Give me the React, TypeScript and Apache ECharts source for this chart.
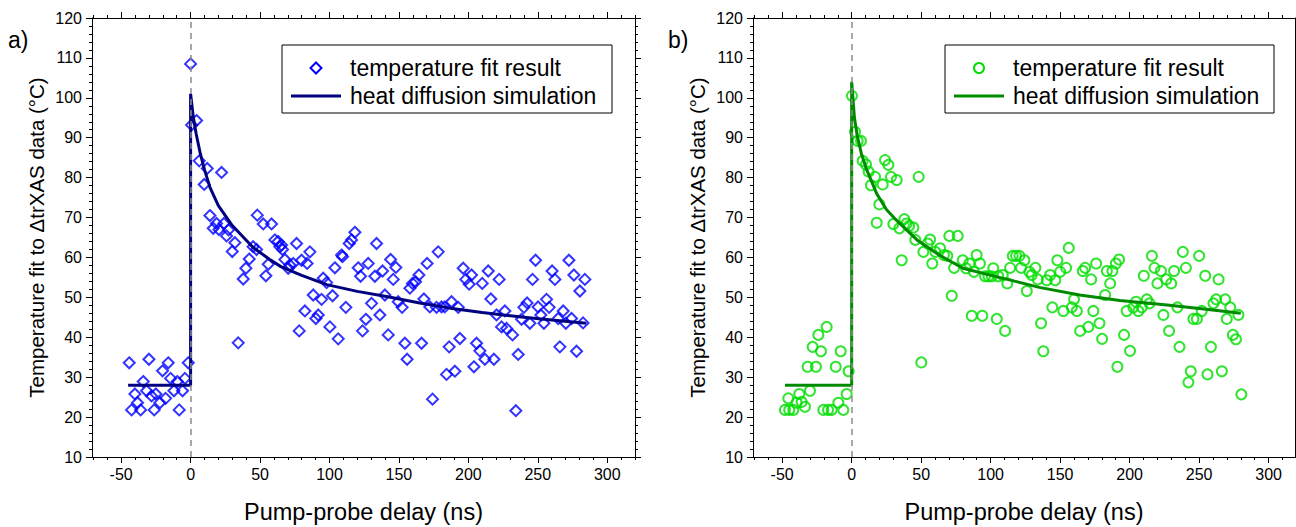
import React, { useEffect, useRef } from "react";
import * as echarts from "echarts";

const FONT = "Liberation Sans, Arial, sans-serif";

// tick labels
const xMajorTicks = [-50, 0, 50, 100, 150, 200, 250, 300];
const xMinorTicks = [-70, -60, -50, -40, -30, -20, -10, 0, 10, 20, 30, 40, 50, 60, 70, 80, 90, 100, 110, 120, 130, 140, 150, 160, 170, 180, 190, 200, 210, 220, 230, 240, 250, 260, 270, 280, 290, 300, 310, 320];

const xTitle = "Pump-probe delay (ns)";
const yTitle = "Temperature fit to \u0394trXAS data (\u00B0C)";
const legendNames = ["temperature fit result", "heat diffusion simulation"];

// panel a: temperature fit result (delay ns, temperature °C)
const aScatter: [number, number][] = [
  [-44.2, 33.6], [-30, 34.5], [-16.1, 33.6], [-1.7, 33.6], [-20.2, 31.6], [-34.1, 28.9], [-14.4, 29.7],
  [-9.6, 28.9], [-4.1, 29.7], [-40.1, 25.8], [-31.7, 26.6], [-25, 25.8], [-28.1, 25.3], [-12, 26.6],
  [-5.8, 26.6], [-18, 24.7], [-22.1, 23.6], [-38.2, 23.6], [-42.5, 21.8], [-36, 21.8], [-26.2, 21.8], [-8.2, 21.8],
  [0, 108.5], [4.3, 94.3], [0.7, 93.2], [6.2, 84.2], [12, 82.3], [22.3, 81.3], [9.8, 78.3],
  [13.9, 70.5], [16.3, 67.3], [18.7, 68.5], [20.4, 67], [24, 68.5], [27.3, 66.9], [25.9, 65.4], [31.9, 63.7],
  [30, 61.5], [48, 70.6], [52.3, 68.4], [58.3, 68.4], [45, 62.7], [47.5, 62], [42.2, 59.6], [39.8, 57.3],
  [37.9, 54.6], [55.9, 58.3], [54.2, 55.4], [60.7, 64.4], [63, 64], [34.3, 38.6],
  [64.3, 62.7], [66.2, 62], [65.5, 63.1], [67.9, 59.5], [71.5, 58.1], [73.9, 58.5], [70.3, 57.3], [79.9, 59.3],
  [76.3, 63.5], [85.9, 61.4], [83.9, 58.5], [95.5, 54.8], [97.9, 53.7], [88.3, 50.6], [94.3, 49.5], [102.2, 50.4],
  [82.3, 46.6], [91.9, 45.6], [90.2, 44.7], [78.2, 41.6], [100.3, 42.6], [106.3, 39.6], [111.8, 47.5], [103.9, 57.4],
  [108.7, 60.6], [109.4, 60.2], [114.2, 63.5], [115.9, 64.4], [118.3, 66.3], [120.7, 57.4], [122.4, 55.3],
  [127.9, 58.5], [133.9, 63.5], [132.7, 55.3], [138.2, 56.6], [130.3, 48.5], [126.2, 44.5], [136.3, 45.6],
  [123.8, 41.6], [139.9, 50.6], [142.3, 40.6], [144, 59.5], [147.8, 57.5], [145.9, 54.5], [149.5, 48.9],
  [152.3, 47.5], [154.3, 38.5], [155.9, 34.5], [157.9, 52.3], [159.8, 53.5], [162, 53.9], [164.4, 55.6],
  [166.3, 38.5], [170.3, 58.5], [178.3, 61.4], [168, 49.6], [172.3, 47.6], [177.1, 47.5], [180.7, 47.6],
  [183, 47.6], [187.9, 48.9], [174.2, 24.5], [186.2, 37.6], [184.3, 30.7], [190.3, 31.5], [193.9, 39.7],
  [192.7, 47.5], [196.3, 57.3], [198.2, 54.5], [200.6, 53.3], [202.3, 55.6], [210, 53.5], [214.3, 56.6],
  [222.2, 54.5], [216.2, 49.6], [205.9, 38.5], [208.3, 36.6], [211.9, 34.5], [218.4, 34.5], [204, 32.6],
  [235.9, 35.7], [234.2, 21.6], [226.3, 46.6], [220.3, 45.6], [223.9, 42.6], [227.5, 42.2], [231.8, 40.6],
  [240, 47.5], [242.3, 48.6], [250.2, 47.6], [252.2, 45.6], [258.2, 47.5], [256.3, 49.5], [244.3, 43.5],
  [254.4, 43.5], [238.3, 44.5], [248.4, 59.3], [246.2, 54.5], [260.3, 56.6], [262.3, 54.5], [272.4, 59.3],
  [276, 55.6], [283.9, 54.5], [280.3, 51.6], [268.3, 46.6], [264.7, 44.7], [270.2, 43.5], [274.3, 44.7],
  [282.6, 43.6], [265.9, 37.6], [277.9, 36.5],
];

// panel a: heat diffusion simulation
const aFit: [number, number][] = [
  [-45, 28], [0, 28], [0, 101], [2, 95], [4, 91], [7, 86], [10, 82], [14, 77.5], [20, 73], [30, 68],
  [45, 62.5], [57, 59.5], [65, 57.7], [80, 55.5], [98, 53.2], [120, 51.5], [141, 50.2], [165, 48.6],
  [187, 47.3], [210, 46.2], [240, 45], [260, 44.3], [285, 43.5],
];

// panel b: temperature fit result
const bScatter: [number, number][] = [
  [-18, 42.6], [-24, 40.6], [-28.1, 37.6], [-22.1, 36.5], [-7.9, 36.5], [-31.7, 32.6], [-25.7, 32.6],
  [-11.5, 32.6], [-2.2, 31.5], [-30, 26.6], [-37.7, 25.8], [-45.6, 24.7], [-3.6, 25.8], [-39.6, 23.6],
  [-36, 23.8], [-33.6, 22.6], [-48, 21.8], [-44.9, 21.8], [-42, 21.8], [-20.4, 21.8], [-17, 21.8],
  [-14.4, 21.8], [-9.6, 23.6], [-6, 21.8],
  [0.2, 100.5], [2.4, 91.5], [4.3, 89.2], [6.7, 89.2], [7.9, 84.2], [10.3, 83.3], [12.2, 81.5], [16.8, 80.2],
  [13.9, 78.1], [24, 84.4], [26.4, 83.2], [28.3, 80.2], [32.4, 79.4], [22.3, 78.3], [48.2, 80.2], [19.9, 73.3],
  [18, 68.7], [30, 68.4], [34.3, 67.3], [37.9, 69.6], [39.6, 68.5], [41.3, 67.9], [44.4, 67.5], [45.8, 64.4],
  [51.6, 61.4], [56.4, 64.5], [54.7, 63.5], [58, 58.5], [60.2, 61.4], [36, 59.3], [50.1, 33.7],
  [63.6, 62.3], [66.4, 60.6], [68.8, 60.4], [70.3, 65.4], [76.3, 65.4], [73.7, 57.4], [79.9, 59.3], [82.3, 57.3],
  [84.7, 58.5], [88, 56.4], [89.9, 60.6], [92.3, 58.5], [96, 55.3], [98.4, 55.3], [100.8, 55.3], [101.9, 57.3],
  [105.5, 55.3], [108.7, 55.6], [112, 53.5], [114, 57.4], [115.9, 60.4], [118.3, 60.4], [120.7, 60.4],
  [124.3, 59.3], [121.9, 57.4], [127.9, 56.4], [129.6, 55.6], [132.2, 57.4], [133.9, 54.5], [126, 51.6],
  [140.4, 54.3], [142.8, 55.6], [146.4, 54.3], [148, 59.3], [150, 56.4], [154.3, 57.4], [156.2, 62.4],
  [136.3, 43.5], [137.9, 36.5], [144.4, 47.5], [152.3, 46.6], [158.4, 47.5], [160, 49.5], [162, 46.6],
  [164.4, 41.6], [170.3, 42.6], [166.3, 56.6], [168, 57.4], [172.3, 54.5], [175.9, 58.5], [173.9, 46.6],
  [178.3, 43.5], [180.2, 39.6], [182.4, 50.6], [183.6, 56.6], [187.6, 56.6], [190.1, 58.5], [192.4, 59.5],
  [186, 53.5], [191.2, 32.6], [72, 50.4], [86.4, 45.4], [94, 45.4], [104.4, 44.6], [110.4, 41.6],
  [196, 40.6], [200.3, 36.6], [197.9, 46.6], [202.7, 47.5], [204.6, 48.9], [206.3, 46.6], [208.8, 47.5],
  [212.4, 49.5], [214.3, 48.5], [210.2, 55.4], [216, 60.4], [217.9, 57.4], [222.5, 56.6], [220, 53.5],
  [226.3, 54.5], [229.9, 53.5], [232, 56.6], [238.3, 61.4], [240.5, 57.4], [250, 60.4], [254.4, 55.4],
  [264, 54.5], [224.3, 45.6], [228.4, 41.6], [234.4, 47.5], [235.9, 37.6], [244, 31.5], [242.3, 28.7],
  [245.9, 44.6], [248.4, 44.6], [251.9, 46.6], [256, 30.7], [258.5, 37.6], [260.3, 48.5], [262.3, 49.5],
  [268.8, 49.5], [266.4, 31.5], [272.4, 47.5], [269.9, 44.6], [278.3, 45.6], [274.3, 40.6], [276.5, 39.5],
  [280.4, 25.7],
];

// panel b: heat diffusion simulation
const bFit: [number, number][] = [
  [-48, 28], [0, 28], [0, 104], [2, 95], [4, 90.5], [7, 86], [11, 81.8], [18, 76], [25, 72], [32, 69.4],
  [47, 64.4], [63, 60.6], [80, 57.3], [104, 55.2], [135, 52.5], [164, 50.6], [193, 49.2], [227, 48.1],
  [255, 47], [280, 46],
];

const BLUE = "#0000ff";
const NAVY = "#000080";
const LGREEN = "#00dd00";
const DGREEN = "#008a00";

function xAxes(grid: number, min: number, max: number) {
  const base = {
    type: "value",
    gridIndex: grid,
    min,
    max,
    splitLine: { show: false },
    axisLine: { show: true, onZero: false, lineStyle: { color: "#000", width: 1 } },
  };
  const majors = xMajorTicks.filter((v) => v >= min && v <= max);
  const minors = xMinorTicks.filter((v) => v >= min && v <= max);
  return [
    {
      ...base,
      position: "bottom",
      axisTick: { show: true, customValues: majors, length: 6, lineStyle: { color: "#000" } },
      axisLabel: { show: true, customValues: majors, fontSize: 16, color: "#000", fontFamily: FONT, margin: 9 },
      name: xTitle,
      nameLocation: "middle",
      nameGap: 43,
      nameTextStyle: { fontSize: 23.5, color: "#000", fontFamily: FONT },
    },
    {
      ...base,
      position: "bottom",
      axisLine: { show: false },
      axisTick: { show: true, customValues: minors, length: 3, lineStyle: { color: "#000" } },
      axisLabel: { show: false },
    },
    {
      ...base,
      position: "top",
      axisTick: { show: true, customValues: majors, length: 6, lineStyle: { color: "#000" } },
      axisLabel: { show: false },
    },
    {
      ...base,
      position: "top",
      axisLine: { show: false },
      axisTick: { show: true, customValues: minors, length: 3, lineStyle: { color: "#000" } },
      axisLabel: { show: false },
    },
  ];
}

function yAxes(grid: number) {
  const base = {
    type: "value",
    gridIndex: grid,
    min: 10,
    max: 120,
    interval: 10,
    splitLine: { show: false },
    minorSplitLine: { show: false },
    axisLine: { show: true, onZero: false, lineStyle: { color: "#000", width: 1 } },
    axisTick: { show: true, length: 6, lineStyle: { color: "#000" } },
    minorTick: { show: true, splitNumber: 5, length: 3, lineStyle: { color: "#000" } },
  };
  return [
    {
      ...base,
      position: "left",
      axisLabel: { show: true, fontSize: 16, color: "#000", fontFamily: FONT, margin: 10 },
      name: yTitle,
      nameLocation: "middle",
      nameRotate: 90,
      nameGap: 45,
      nameTextStyle: { fontSize: 20.5, color: "#000", fontFamily: FONT },
    },
    { ...base, position: "right", axisLabel: { show: false } },
  ];
}

function legendGraphic(left: number, width: number, color: string, lineColor: string, circle: boolean) {
  const mx = left + 34;
  const marker = circle
    ? { type: "circle", shape: { cx: mx, cy: 68, r: 5 }, style: { fill: "none", stroke: color, lineWidth: 2 }, z: 101 }
    : {
        type: "polygon",
        shape: { points: [[mx, 62.5], [mx + 5.5, 68], [mx, 73.5], [mx - 5.5, 68]] },
        style: { fill: "none", stroke: color, lineWidth: 2 },
        z: 101,
      };
  return [
    { type: "rect", shape: { x: left, y: 45, width, height: 68 }, style: { fill: "#fff", stroke: "#000", lineWidth: 1 }, z: 100 },
    marker,
    {
      type: "text", x: left + 68, y: 67.5, z: 101,
      style: { text: legendNames[0], fontSize: 23, fontFamily: FONT, fill: "#000", verticalAlign: "middle" },
    },
    { type: "line", shape: { x1: left + 9, y1: 96, x2: left + 59, y2: 96 }, style: { stroke: lineColor, lineWidth: 3 }, z: 101 },
    {
      type: "text", x: left + 68, y: 95.5, z: 101,
      style: { text: legendNames[1], fontSize: 23, fontFamily: FONT, fill: "#000", verticalAlign: "middle" },
    },
  ];
}

function zeroLine(xi: number, yi: number) {
  return {
    type: "scatter",
    xAxisIndex: xi,
    yAxisIndex: yi,
    data: [],
    z: 1,
    silent: true,
    markLine: {
      silent: true,
      symbol: "none",
      label: { show: false },
      lineStyle: { color: "#8c8c8c", type: [6, 5], width: 1.5 },
      data: [{ xAxis: 0 }],
    },
  };
}

export default function App() {
  const ref = useRef<HTMLDivElement>(null);
  useEffect(() => {
    if (!ref.current) return;
    const chart = echarts.init(ref.current, null, { renderer: "svg" });
    const option: any = {
      animation: false,
      textStyle: { fontFamily: FONT },
      grid: [
        { left: 92, top: 18, width: 543, height: 439, outerBoundsMode: "none" },
        { left: 753, top: 18, width: 542, height: 439, outerBoundsMode: "none" },
      ],
      xAxis: [...xAxes(0, -71, 320), ...xAxes(1, -71, 319)],
      yAxis: [...yAxes(0), ...yAxes(1)],
      series: [
        zeroLine(0, 0),
        {
          type: "scatter", name: legendNames[0], xAxisIndex: 0, yAxisIndex: 0, data: aScatter, z: 2,
          symbol: "diamond", symbolSize: 11,
          itemStyle: { color: "rgba(0,0,0,0)", borderColor: BLUE, borderWidth: 2 },
        },
        {
          type: "line", name: legendNames[1], xAxisIndex: 0, yAxisIndex: 0, data: aFit, z: 3,
          symbol: "none", lineStyle: { color: NAVY, width: 3 },
        },
        zeroLine(4, 2),
        {
          type: "scatter", name: legendNames[0], xAxisIndex: 4, yAxisIndex: 2, data: bScatter, z: 2,
          symbol: "circle", symbolSize: 10,
          itemStyle: { color: "rgba(0,0,0,0)", borderColor: LGREEN, borderWidth: 2 },
        },
        {
          type: "line", name: legendNames[1], xAxisIndex: 4, yAxisIndex: 2, data: bFit, z: 3,
          symbol: "none", lineStyle: { color: DGREEN, width: 3 },
        },
      ],
      graphic: [
        ...legendGraphic(282, 330, BLUE, NAVY, false),
        ...legendGraphic(945, 329, LGREEN, DGREEN, true),
        { type: "text", x: 8, y: 40, style: { text: "a)", fontSize: 23, fontFamily: FONT, fill: "#000", verticalAlign: "middle" } },
        { type: "text", x: 668, y: 40, style: { text: "b)", fontSize: 23, fontFamily: FONT, fill: "#000", verticalAlign: "middle" } },
      ],
    };
    chart.setOption(option);
    return () => chart.dispose();
  }, []);
  return (
    <div
      ref={ref}
      style={{ position: "absolute", left: 0, top: 0, width: 1296, height: 527, background: "#fff" }}
    />
  );
}
